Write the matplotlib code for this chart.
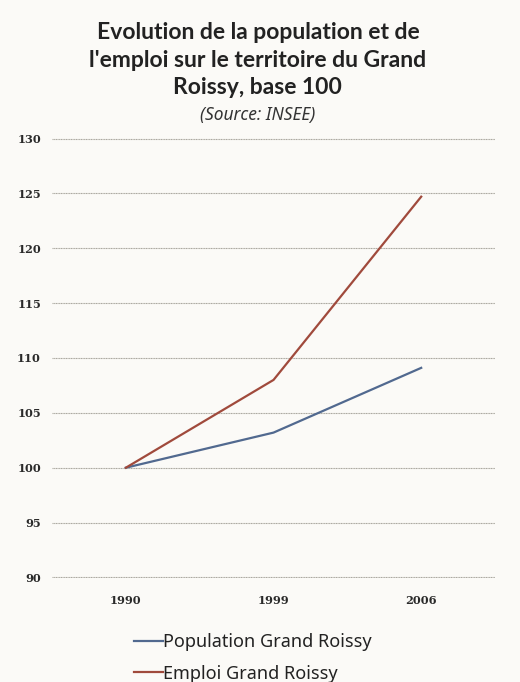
import matplotlib
matplotlib.use("Agg")
import matplotlib.pyplot as plt
from matplotlib.lines import Line2D

years = ["1990", "1999", "2006"]
population = [100, 103.2, 109.1]
emploi = [100, 108.0, 124.7]
series_labels = ["Population Grand Roissy", "Emploi Grand Roissy"]
y_ticks = [90, 95, 100, 105, 110, 115, 120, 125, 130]

title = "Evolution de la population et de\nl'emploi sur le territoire du Grand\nRoissy, base 100"
subtitle = "(Source: INSEE)"

bg = "#fbfaf7"
blue = "#51698f"
red = "#a04a3c"
grid_col = "#a8a59d"

fig = plt.figure(figsize=(5.2, 6.82), dpi=100, facecolor=bg)
ax = fig.add_axes([0.1, 0.1525, 0.852, 0.6452], facecolor=bg)

x = range(len(years))
ax.plot(x, population, color=blue, lw=1.6)
ax.plot(x, emploi, color=red, lw=1.6)

ax.set_xlim(-0.5, len(years) - 0.5)
ax.set_ylim(y_ticks[0] - 0.05, y_ticks[-1] + 0.05)
ax.set_yticks(y_ticks)
ax.set_xticks(list(x))
ax.set_xticklabels(years)
ax.grid(axis="y", color=grid_col, lw=0.8, ls=(0, (1, 0.5)))
ax.set_axisbelow(True)
for s in ax.spines.values():
    s.set_visible(False)
ax.tick_params(axis="both", length=0, colors="#2a2a2a")
ax.tick_params(axis="y", pad=8)
ax.tick_params(axis="x", pad=12)
for lab in ax.get_yticklabels() + ax.get_xticklabels():
    lab.set_fontfamily("DejaVu Serif")
    lab.set_fontweight("bold")
    lab.set_fontsize(8.2)

fig.text(0.496, 0.968, title, ha="center", va="top", fontsize=16.5,
         fontweight="bold", family="Lato", color="#222222", linespacing=1.4)
fig.text(0.496, 0.844, subtitle, ha="center", va="top", fontsize=12.5,
         style="italic", family="Noto Sans", color="#333333")

handles = [Line2D([], [], color=blue, lw=1.6), Line2D([], [], color=red, lw=1.6)]
fig.legend(handles, series_labels, loc="lower left", bbox_to_anchor=(0.226, -0.025),
           frameon=False, prop={"family": "Noto Sans", "size": 13},
           handlelength=1.6, handletextpad=0.0, labelspacing=0.74,
           labelcolor="#222222")

fig.savefig("out.png", dpi=100, facecolor=bg)
